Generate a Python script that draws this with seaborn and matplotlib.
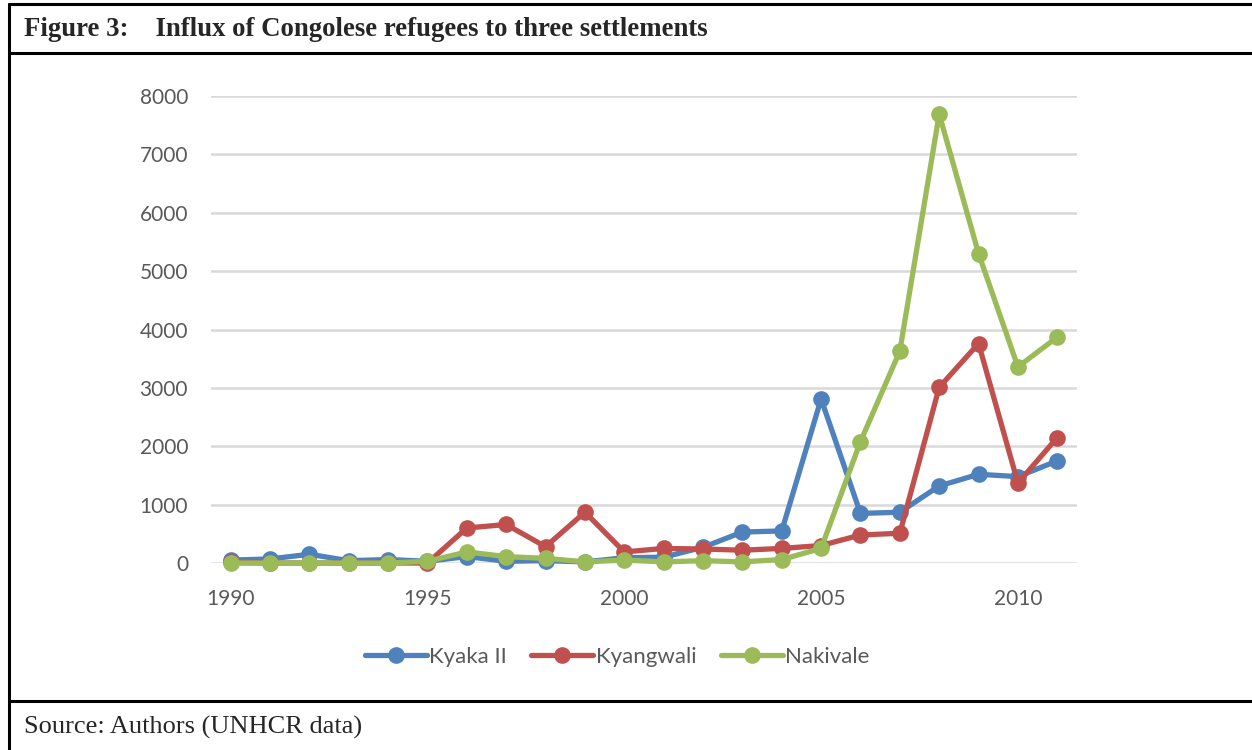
import matplotlib.pyplot as plt
from matplotlib.lines import Line2D
import numpy as np
import pandas as pd
import seaborn as sns

years = list(range(1990, 2012))
kyaka = [50, 70, 150, 40, 60, 30, 110, 30, 40, 20, 90, 100, 270, 530, 550, 2810,
         850, 870, 1320, 1520, 1480, 1750]
kyangwali = [10, 0, 0, 0, 0, 0, 600, 660, 280, 870, 190, 250, 240, 220, 250, 300,
             480, 510, 3010, 3760, 1370, 2150]
nakivale = [0, 0, 0, 0, 0, 30, 190, 110, 80, 20, 50, 20, 40, 20, 60, 250,
            2080, 3630, 7690, 5300, 3360, 3870]
series_names = ['Kyaka II', 'Kyangwali', 'Nakivale']
colors = ['#4f81bd', '#c0504d', '#9bbb59']
y_ticks = [0, 1000, 2000, 3000, 4000, 5000, 6000, 7000, 8000]
x_ticks = [1990, 1995, 2000, 2005, 2010]

df = pd.DataFrame({
    'year': years * 3,
    'value': kyaka + kyangwali + nakivale,
    'settlement': [n for n in series_names for _ in years],
})

sns.set_style('white')
plt.rcParams['font.family'] = ['Lato', 'DejaVu Sans']

fig = plt.figure(figsize=(12.52, 7.5), dpi=100)
ax = fig.add_axes([0.1685, 0.2493, 0.6917, 0.6227])

sns.lineplot(data=df, x='year', y='value', hue='settlement', hue_order=series_names,
             palette=colors, marker='o', markersize=12, markeredgewidth=0,
             linewidth=3.8, ax=ax, clip_on=False, legend=True)

ax.set_xlim(1989.5, 2011.5)
ax.set_ylim(0, 8000)
ax.set_yticks(y_ticks)
ax.set_xticks(x_ticks)
ax.yaxis.grid(True, color='#d9d9d9', linewidth=1.8)
ax.set_axisbelow(True)
for s in ax.spines.values():
    s.set_visible(False)
ax.set_xlabel('')
ax.set_ylabel('')
ax.tick_params(axis='both', length=0, labelsize=15, labelcolor='#595959')
ax.tick_params(axis='y', pad=16.5)
ax.tick_params(axis='x', pad=19)

handles, labels = ax.get_legend_handles_labels()
leg = ax.legend(handles, labels, loc='center', bbox_to_anchor=(617 / 1252, 1 - 657 / 750),
                bbox_transform=fig.transFigure, ncol=3, frameon=False, fontsize=16,
                handlelength=2.8, handletextpad=0.1, columnspacing=1.1)
for t in leg.get_texts():
    t.set_color('#595959')

# table frame
lw = 2.2
fig.add_artist(Line2D([9 / 1252, 1], [1 - 4 / 750, 1 - 4 / 750], color='black', lw=lw))
fig.add_artist(Line2D([9 / 1252, 1], [1 - 53 / 750, 1 - 53 / 750], color='black', lw=lw))
fig.add_artist(Line2D([9 / 1252, 1], [1 - 701 / 750, 1 - 701 / 750], color='black', lw=lw))
fig.add_artist(Line2D([9 / 1252, 9 / 1252], [0, 1 - 4 / 750], color='black', lw=lw))

fig.text(24 / 1252, 1 - 30 / 750, 'Figure 3:    Influx of Congolese refugees to three settlements',
         family='Liberation Serif', fontweight='bold', fontsize=19.3, va='center', ha='left')
fig.text(24 / 1252, 1 - 727 / 750, 'Source: Authors (UNHCR data)',
         family='Liberation Serif', fontsize=19, va='center', ha='left')

plt.savefig('out.png', dpi=100)
